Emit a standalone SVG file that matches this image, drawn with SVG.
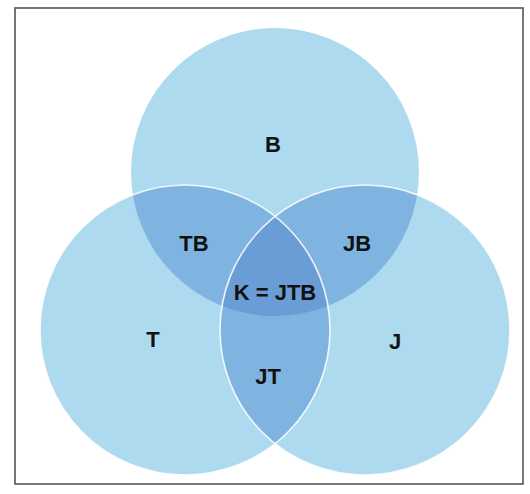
<svg xmlns="http://www.w3.org/2000/svg" width="530" height="494" viewBox="0 0 530 494">
<style>
.lbl{font-family:"Liberation Sans","DejaVu Sans",sans-serif;font-weight:bold;font-size:22px;fill:#111;text-anchor:middle}
.one{fill:#addaee}
.two{fill:#7fb4e0}
.three{fill:#6a9dd5}
.edge{fill:none;stroke:#ffffff;stroke-width:1.6;stroke-opacity:0.85}
</style>
<defs>
<clipPath id="cB"><circle cx="275" cy="172" r="144"/></clipPath>
<clipPath id="cT"><circle cx="185" cy="330" r="145"/></clipPath>
<clipPath id="cJ"><circle cx="365" cy="330" r="145"/></clipPath>
</defs>
<rect x="15" y="8" width="508" height="476" fill="#ffffff" stroke="#555555" stroke-width="1.6"/>
<g id="B"><circle class="one" cx="275" cy="172" r="144"/></g>
<g id="T"><circle class="one" cx="185" cy="330" r="145"/></g>
<g id="J"><circle class="one" cx="365" cy="330" r="145"/></g>
<g id="TB"><circle class="two" cx="185" cy="330" r="145" clip-path="url(#cB)"/></g>
<g id="JB"><circle class="two" cx="365" cy="330" r="145" clip-path="url(#cB)"/></g>
<g id="JT"><circle class="two" cx="365" cy="330" r="145" clip-path="url(#cT)"/></g>
<g id="K"><g clip-path="url(#cB)"><circle class="three" cx="365" cy="330" r="145" clip-path="url(#cT)"/></g></g>
<g id="edges">
<circle class="edge" cx="185" cy="330" r="145"/>
<circle class="edge" cx="365" cy="330" r="145"/>
</g>
<g id="labels">
<text class="lbl" x="273" y="152">B</text>
<text class="lbl" x="194" y="251">TB</text>
<text class="lbl" x="357" y="251">JB</text>
<text class="lbl" x="275" y="300" font-size="21.5">K = JTB</text>
<text class="lbl" x="153" y="347">T</text>
<text class="lbl" x="395" y="349">J</text>
<text class="lbl" x="268" y="384">JT</text>
</g>
</svg>
